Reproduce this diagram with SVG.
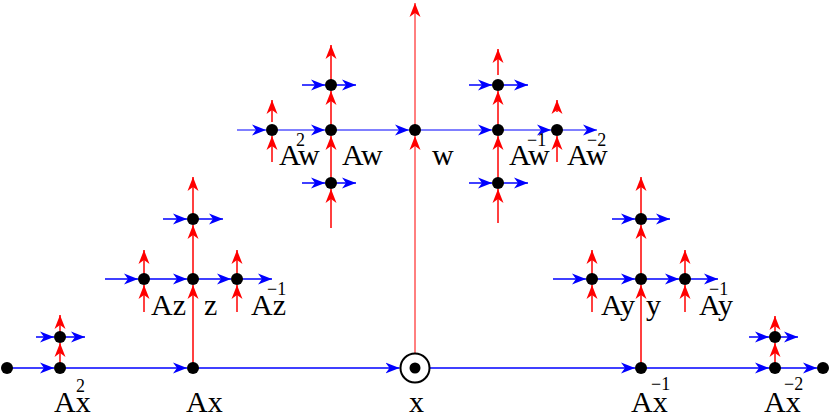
<svg xmlns="http://www.w3.org/2000/svg" width="830" height="415" viewBox="0 0 830 415">
<style>
.b{stroke:#0000ff;stroke-width:1.5;fill:none;marker-end:url(#ab)}
.bl{stroke:#0000ff;stroke-width:1;fill:none;marker-end:url(#ab)}
.r{stroke:#ff0000;stroke-width:1.5;fill:none;marker-end:url(#ar)}
.rl{stroke:#ff0000;stroke-width:1;fill:none;marker-end:url(#ar)}
.d{fill:#000}
.t{font-family:"Liberation Serif","Times New Roman",serif;font-size:30px;fill:#000}
.s{font-family:"Liberation Serif","Times New Roman",serif;font-size:18px;fill:#000}
</style>
<defs>
<marker id="ab" markerUnits="userSpaceOnUse" viewBox="0 0 14 12" markerWidth="14" markerHeight="12" refX="14" refY="6" orient="auto">
<path d="M14,6 L0,0.5 L4,6 L0,11.5 Z" fill="#0000ff"/>
</marker>
<marker id="ar" markerUnits="userSpaceOnUse" viewBox="0 0 14 12" markerWidth="14" markerHeight="12" refX="14" refY="6" orient="auto">
<path d="M14,6 L0,0.5 L4,6 L0,11.5 Z" fill="#ff0000"/>
</marker>
</defs>
<g id="connectors">
<line class="b" x1="7" y1="368" x2="54" y2="368"/>
<line class="b" x1="60" y1="368" x2="187" y2="368"/>
<line class="b" x1="193" y1="368" x2="399.5" y2="368"/>
<line class="b" x1="430" y1="368" x2="635" y2="368"/>
<line class="b" x1="641" y1="368" x2="769" y2="368"/>
<line class="b" x1="775" y1="368" x2="817" y2="368"/>
<line class="b" x1="36" y1="337" x2="54" y2="337"/>
<line class="b" x1="60" y1="337" x2="85" y2="337"/>
<line class="b" x1="749" y1="337" x2="769" y2="337"/>
<line class="b" x1="775" y1="337" x2="798" y2="337"/>
<line class="r" x1="60" y1="368" x2="60" y2="343"/>
<line class="r" x1="60" y1="337" x2="60" y2="315"/>
<line class="r" x1="775" y1="368" x2="775" y2="343"/>
<line class="r" x1="775" y1="337" x2="775" y2="316"/>
<line class="b" x1="105" y1="279" x2="138" y2="279"/>
<line class="b" x1="144" y1="279" x2="187" y2="279"/>
<line class="b" x1="193" y1="279" x2="231" y2="279"/>
<line class="b" x1="237" y1="279" x2="272" y2="279"/>
<line class="b" x1="163" y1="219" x2="187" y2="219"/>
<line class="b" x1="193" y1="219" x2="223" y2="219"/>
<line class="r" x1="193" y1="368" x2="193" y2="285"/>
<line class="r" x1="193" y1="279" x2="193" y2="225"/>
<line class="r" x1="193" y1="219" x2="193" y2="177"/>
<line class="r" x1="144" y1="312" x2="144" y2="285"/>
<line class="r" x1="144" y1="279" x2="144" y2="250"/>
<line class="r" x1="237" y1="312" x2="237" y2="285"/>
<line class="r" x1="237" y1="279" x2="237" y2="250"/>
<line class="b" x1="553" y1="279" x2="586" y2="279"/>
<line class="b" x1="592" y1="279" x2="635" y2="279"/>
<line class="b" x1="641" y1="279" x2="679" y2="279"/>
<line class="b" x1="685" y1="279" x2="718" y2="279"/>
<line class="b" x1="612" y1="219" x2="635" y2="219"/>
<line class="b" x1="641" y1="219" x2="670" y2="219"/>
<line class="r" x1="641" y1="368" x2="641" y2="285"/>
<line class="r" x1="641" y1="279" x2="641" y2="225"/>
<line class="r" x1="641" y1="219" x2="641" y2="177"/>
<line class="r" x1="592" y1="312" x2="592" y2="285"/>
<line class="r" x1="592" y1="279" x2="592" y2="250"/>
<line class="r" x1="685" y1="312" x2="685" y2="285"/>
<line class="r" x1="685" y1="279" x2="685" y2="250"/>
<line class="bl" x1="237" y1="130" x2="266" y2="130"/>
<line class="bl" x1="272" y1="130" x2="325" y2="130"/>
<line class="bl" x1="331" y1="130" x2="409" y2="130"/>
<line class="bl" x1="415" y1="130" x2="492" y2="130"/>
<line class="bl" x1="498" y1="130" x2="551" y2="130"/>
<line class="bl" x1="557" y1="130" x2="597" y2="130"/>
<line class="b" x1="302" y1="85" x2="325" y2="85"/>
<line class="b" x1="331" y1="85" x2="356" y2="85"/>
<line class="b" x1="302" y1="183" x2="325" y2="183"/>
<line class="b" x1="331" y1="183" x2="356" y2="183"/>
<line class="b" x1="469" y1="85" x2="492" y2="85"/>
<line class="b" x1="498" y1="85" x2="528" y2="85"/>
<line class="b" x1="469" y1="183" x2="492" y2="183"/>
<line class="b" x1="498" y1="183" x2="528" y2="183"/>
<line class="rl" x1="415" y1="354" x2="415" y2="136"/>
<line class="rl" x1="415" y1="130" x2="415" y2="3"/>
<line class="r" x1="331" y1="228" x2="331" y2="189"/>
<line class="r" x1="331" y1="183" x2="331" y2="136"/>
<line class="r" x1="331" y1="130" x2="331" y2="91"/>
<line class="r" x1="331" y1="85" x2="331" y2="45"/>
<line class="r" x1="498" y1="223" x2="498" y2="189"/>
<line class="r" x1="498" y1="183" x2="498" y2="136"/>
<line class="r" x1="498" y1="130" x2="498" y2="91"/>
<line class="r" x1="498" y1="75" x2="498" y2="49"/>
<line class="r" x1="272" y1="162" x2="272" y2="136"/>
<line class="r" x1="272" y1="122" x2="272" y2="100"/>
<line class="r" x1="557" y1="162" x2="557" y2="136"/>
<line class="r" x1="557" y1="112" x2="557" y2="100"/>
</g>
<g id="n_left"><circle class="d" cx="7" cy="368" r="6"/></g>
<g id="n_A2x"><circle class="d" cx="60" cy="368" r="6"/><text class="t" x="54" y="412">Ax</text><text class="s" x="76" y="392">2</text></g>
<g id="n_A2x_up"><circle class="d" cx="60" cy="337" r="6"/></g>
<g id="n_Ax"><circle class="d" cx="193" cy="368" r="6"/><text class="t" x="186" y="412">Ax</text></g>
<g id="n_x"><circle cx="415" cy="368" r="14.5" fill="#fff" stroke="#000" stroke-width="2"/><circle class="d" cx="415" cy="368" r="5.5"/><text class="t" x="409" y="412">x</text></g>
<g id="n_Am1x"><circle class="d" cx="641" cy="368" r="6"/><text class="t" x="631" y="412">Ax</text><text class="s" x="651" y="390">−1</text></g>
<g id="n_Am2x"><circle class="d" cx="775" cy="368" r="6"/><text class="t" x="764" y="412">Ax</text><text class="s" x="784" y="390">−2</text></g>
<g id="n_Am2x_up"><circle class="d" cx="775" cy="337" r="6"/></g>
<g id="n_right"><circle class="d" cx="823" cy="368" r="6"/></g>
<g id="n_Az"><circle class="d" cx="144" cy="279" r="6"/><text class="t" x="151" y="315">Az</text></g>
<g id="n_z"><circle class="d" cx="193" cy="279" r="6"/><text class="t" x="204" y="315">z</text></g>
<g id="n_Azm1"><circle class="d" cx="237" cy="279" r="6"/><text class="t" x="251" y="315">Az</text><text class="s" x="267" y="295">−1</text></g>
<g id="n_z_up"><circle class="d" cx="193" cy="219" r="6"/></g>
<g id="n_Ay"><circle class="d" cx="592" cy="279" r="6"/><text class="t" x="601" y="315">Ay</text></g>
<g id="n_y"><circle class="d" cx="641" cy="279" r="6"/><text class="t" x="646" y="315">y</text></g>
<g id="n_Aym1"><circle class="d" cx="685" cy="279" r="6"/><text class="t" x="699" y="315">Ay</text><text class="s" x="709" y="295">−1</text></g>
<g id="n_y_up"><circle class="d" cx="641" cy="219" r="6"/></g>
<g id="n_Aw2"><circle class="d" cx="272" cy="130" r="6"/><text class="t" x="279" y="165">Aw</text><text class="s" x="296" y="146">2</text></g>
<g id="n_Aw"><circle class="d" cx="331" cy="130" r="6"/><text class="t" x="342" y="165">Aw</text></g>
<g id="n_Aw_up"><circle class="d" cx="331" cy="85" r="6"/></g>
<g id="n_Aw_down"><circle class="d" cx="331" cy="183" r="6"/></g>
<g id="n_w"><circle class="d" cx="415" cy="130" r="6"/><text class="t" x="432" y="165">w</text></g>
<g id="n_Awm1"><circle class="d" cx="498" cy="130" r="6"/><text class="t" x="509" y="165">Aw</text><text class="s" x="527" y="146">−1</text></g>
<g id="n_Awm1_up"><circle class="d" cx="498" cy="85" r="6"/></g>
<g id="n_Awm1_down"><circle class="d" cx="498" cy="183" r="6"/></g>
<g id="n_Awm2"><circle class="d" cx="557" cy="130" r="6"/><text class="t" x="567" y="165">Aw</text><text class="s" x="587" y="146">−2</text></g>
</svg>
